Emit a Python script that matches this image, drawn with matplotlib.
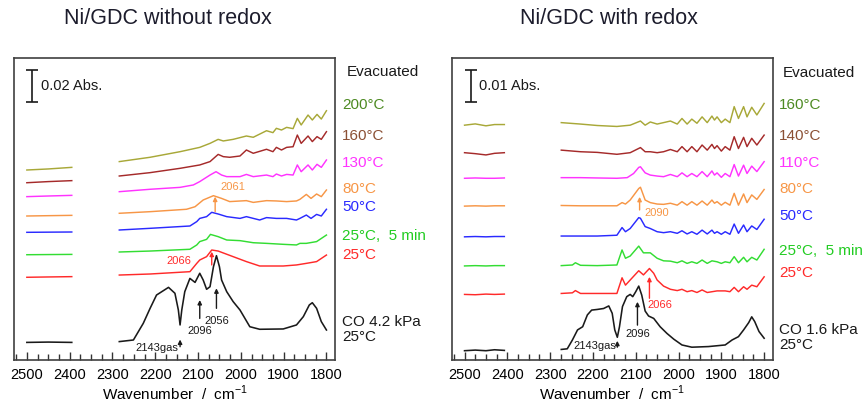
import matplotlib
matplotlib.use('Agg')
import matplotlib.pyplot as plt
from matplotlib.ticker import MultipleLocator

plt.rcParams['font.family'] = 'Liberation Sans'
plt.rcParams['mathtext.fontset'] = 'custom'
plt.rcParams['mathtext.rm'] = 'Liberation Sans'

# ------------------------------------------------------------------
# DATA (absorbance in mAbs, spectra already stacked as in the figure)
# short segment 2500-2400 cm-1 and main segment 2280-1800 cm-1

# --- Ni/GDC without redox
a_short_wn = [2500, 2450, 2395]
a200_short = [118.75, 119.4, 120.4]
a160_short = [110.8, 111.5, 112.1]
a130_short = [102.1, 102.5, 102.9]
a80_short  = [90.0, 90.2, 90.4]
a50_short  = [79.8, 79.9, 80.0]
a25b_short = [65.8, 65.9, 66.0]
a25_short  = [51.7, 51.9, 52.1]
aCO_short  = [11.0, 11.2, 11.0]

a200_wn = [2284, 2212, 2142, 2096, 2072, 2053, 2041, 2018, 1987, 1971, 1940, 1925,
           1917, 1905, 1893, 1878, 1868, 1859, 1843, 1833, 1822, 1812, 1800]
a200_A  = [124.0, 126.7, 130.2, 132.9, 135.4, 137.9, 136.9, 137.9, 140.0, 139.2, 143.3, 142.1,
           144.8, 143.75, 145.4, 144.6, 151.0, 146.9, 153.1, 150.0, 153.5, 150.6, 155.8]

a160_wn = [2284, 2212, 2142, 2096, 2072, 2053, 2041, 2026, 2002, 1987, 1971, 1940,
           1925, 1917, 1905, 1893, 1878, 1868, 1859, 1843, 1833, 1822, 1812, 1800]
a160_A  = [115.0, 117.1, 119.8, 121.9, 124.0, 128.5, 127.1, 126.7, 127.5, 131.25, 129.2, 131.7,
           130.2, 132.9, 131.25, 132.9, 133.3, 140.6, 135.4, 140.0, 136.5, 139.6, 137.9, 142.7]

a130_wn = [2284, 2212, 2142, 2111, 2096, 2072, 2058, 2045, 2033, 2002, 1987, 1971, 1940,
           1925, 1917, 1905, 1893, 1878, 1868, 1859, 1843, 1833, 1822, 1812, 1800]
a130_A  = [105.2, 106.7, 107.9, 109.4, 111.5, 115.6, 117.7, 115.6, 114.6, 114.6, 116.0, 114.6, 115.6,
           114.6, 116.25, 115.0, 116.0, 115.6, 121.9, 117.7, 121.9, 118.75, 122.3, 120.4, 125.0]

a80_wn = [2284, 2212, 2127, 2107, 2088, 2064, 2045, 2026, 1987, 1971,
          1940, 1917, 1893, 1870, 1862, 1847, 1836, 1823, 1812, 1800]
a80_A  = [91.7, 92.7, 94.2, 95.8, 100.0, 102.7, 101.0, 99.0, 99.6, 98.5,
          99.6, 99.4, 99.0, 99.4, 100.4, 103.5, 101.0, 103.75, 102.1, 106.25]

a50_wn = [2284, 2212, 2119, 2103, 2096, 2080, 2068, 2053, 2033, 2002, 1987,
          1956, 1940, 1917, 1893, 1870, 1862, 1847, 1836, 1823, 1812, 1800]
a50_A  = [81.25, 82.3, 83.75, 86.5, 88.5, 89.6, 92.3, 91.25, 89.6, 88.5, 89.6,
          87.5, 89.0, 88.5, 88.5, 87.5, 88.5, 90.6, 88.5, 91.0, 90.0, 94.2]

a25b_wn = [2284, 2212, 2119, 2103, 2096, 2080, 2071, 2053, 2033,
           2002, 1971, 1940, 1901, 1870, 1862, 1847, 1823, 1800]
a25b_A  = [67.5, 68.1, 69.2, 71.9, 74.0, 75.4, 78.5, 77.1, 75.0,
           74.6, 73.3, 72.9, 72.3, 71.9, 72.9, 72.9, 74.0, 78.1]

a25_wn = [2284, 2212, 2119, 2103, 2096, 2080, 2068, 2053, 2018, 1987,
          1956, 1901, 1870, 1847, 1823, 1800]
a25_A  = [53.1, 53.75, 55.2, 60.4, 62.5, 64.6, 68.75, 68.1, 64.6, 61.5,
          58.75, 58.75, 59.4, 60.4, 61.5, 65.6]

aCO_wn = [2284, 2251, 2228, 2212, 2197, 2169, 2154, 2146, 2142, 2138, 2131, 2119, 2107,
          2096, 2088, 2080, 2072, 2064, 2057, 2050, 2045, 2033, 2018, 2002, 1979,
          1956, 1901, 1870, 1854, 1840, 1833, 1823, 1812, 1800]
aCO_A  = [11.5, 12.5, 22.9, 32.3, 40.6, 45.4, 41.7, 31.25, 21.9, 31.25, 42.7, 51.0, 48.5,
          54.2, 50.0, 44.2, 45.8, 58.3, 65.2, 58.3, 50.0, 42.7, 36.5, 31.25, 20.8,
          19.2, 19.4, 21.9, 27.1, 34.4, 35.8, 32.3, 24.0, 18.75]

# --- Ni/GDC with redox
b_short_wn = [2500, 2475, 2450, 2430, 2407]
b160_short = [73.4, 73.8, 73.2, 73.6, 73.6]
b140_short = [64.8, 64.5, 64.1, 64.6, 64.8]
b110_short = [56.8, 56.9, 56.8, 56.8, 56.9]
b80_short  = [48.1, 48.2, 48.1, 48.2, 48.2]
b50_short  = [38.5, 38.6, 38.5, 38.6, 38.6]
b25b_short = [29.4, 29.5, 29.4, 29.5, 29.5]
b25_short  = [20.5, 20.4, 20.6, 20.5, 20.6]
bCO_short  = [2.9, 3.1, 2.9, 3.2, 3.0]

b_hot_wn = [2274, 2229, 2190, 2144, 2113, 2089, 2078, 2066, 2050, 2035, 2019, 2003,
            1992, 1980, 1969, 1957, 1945, 1933, 1922, 1916, 1910, 1900, 1891, 1880,
            1870, 1860, 1848, 1840, 1829, 1817, 1800]
b160_A = [74.2, 73.75, 73.3, 73.0, 73.4, 74.7, 73.4, 74.4, 73.75, 74.2, 74.7, 73.75,
          75.5, 73.75, 75.3, 74.0, 76.0, 74.2, 76.25, 75.0, 76.0, 74.2, 75.3, 74.2,
          79.2, 75.5, 79.2, 76.0, 79.0, 76.6, 80.2]
b140_A = [65.6, 65.1, 64.9, 64.3, 64.8, 66.4, 65.1, 65.1, 64.8, 65.1, 65.8, 65.1,
          66.7, 65.1, 66.7, 65.1, 67.2, 65.6, 67.4, 66.1, 67.0, 65.3, 66.7, 65.6,
          69.8, 66.1, 69.6, 66.7, 69.3, 67.2, 70.3]

b110_wn = [2274, 2229, 2190, 2144, 2120, 2105, 2093, 2089, 2078, 2066, 2050, 2035,
           2019, 2003, 1992, 1980, 1969, 1957, 1945, 1933, 1922, 1916, 1910, 1900,
           1891, 1880, 1870, 1860, 1848, 1840, 1829, 1817, 1800]
b110_A  = [57.0, 57.0, 56.9, 56.8, 57.0, 58.3, 60.2, 60.4, 58.5, 57.8, 57.5, 57.3,
           58.0, 57.3, 58.5, 57.3, 58.3, 57.3, 58.9, 57.3, 59.1, 57.8, 58.5, 57.1,
           58.3, 57.3, 61.1, 57.5, 60.9, 58.3, 60.6, 58.9, 62.0]

b_mid_wn = [2274, 2229, 2190, 2144, 2132, 2124, 2113, 2093, 2089, 2078, 2066, 2050,
            2035, 2019, 2003, 1992, 1980, 1969, 1957, 1945, 1933, 1922, 1916, 1910,
            1900, 1891, 1880, 1870, 1860, 1848, 1840, 1829, 1817, 1800]
b80_A = [48.3, 48.2, 48.2, 48.2, 49.2, 48.75, 50.0, 53.6, 54.0, 50.0, 49.2, 48.75,
         48.65, 49.0, 48.4, 49.5, 48.4, 49.5, 48.4, 49.7, 48.4, 50.0, 49.0, 49.5,
         48.4, 49.3, 48.4, 52.1, 48.4, 51.9, 49.2, 51.6, 50.2, 53.3]
b50_A = [38.75, 38.75, 38.75, 39.0, 41.4, 40.1, 41.1, 44.5, 44.3, 41.7, 41.1, 40.1,
         39.8, 40.1, 39.6, 40.4, 39.4, 40.1, 39.3, 40.6, 39.4, 40.6, 39.6, 40.1,
         39.3, 40.1, 39.3, 42.5, 39.6, 42.2, 40.1, 41.9, 40.8, 44.0]

b25b_wn = [2274, 2248, 2241, 2229, 2190, 2144, 2132, 2124, 2113, 2093, 2082, 2066,
           2050, 2035, 2019, 2003, 1992, 1980, 1969, 1957, 1945, 1933, 1922, 1910,
           1900, 1891, 1880, 1870, 1860, 1848, 1840, 1829, 1817, 1800]
b25b_A  = [29.5, 29.7, 30.4, 29.6, 29.5, 29.7, 34.4, 31.8, 32.5, 35.6, 33.5, 33.5,
           31.8, 31.0, 30.9, 30.4, 31.0, 30.2, 30.7, 30.2, 31.25, 30.2, 31.0, 30.7,
           30.2, 30.7, 30.4, 32.3, 30.4, 32.1, 30.7, 32.1, 31.25, 34.6]

b25_wn = [2274, 2248, 2241, 2229, 2190, 2144, 2132, 2124, 2113, 2093, 2082, 2068,
          2058, 2050, 2035, 2019, 2003, 1992, 1980, 1969, 1957, 1945, 1933, 1910,
          1891, 1880, 1870, 1860, 1848, 1840, 1829, 1817, 1800]
b25_A  = [20.8, 21.0, 21.7, 20.8, 20.8, 20.8, 25.7, 23.4, 25.0, 27.9, 26.6, 28.6,
          27.1, 25.0, 23.1, 22.1, 21.7, 22.1, 21.35, 21.7, 21.1, 21.9, 21.1, 21.6,
          21.6, 21.35, 22.7, 21.35, 22.9, 22.1, 23.4, 22.9, 26.0]

bCO_wn = [2274, 2260, 2248, 2236, 2224, 2213, 2203, 2190, 2175, 2163, 2155, 2149, 2143,
          2138, 2131, 2121, 2113, 2107, 2100, 2093, 2086, 2078, 2070, 2058, 2043, 2027,
          2011, 1992, 1969, 1930, 1891, 1875, 1860, 1848, 1836, 1829, 1822, 1812, 1800]
bCO_A  = [3.3, 3.5, 6.25, 9.4, 10.4, 14.1, 15.6, 15.8, 16.1, 16.9, 14.6, 9.4, 7.1,
          10.4, 16.7, 19.8, 20.5, 19.8, 21.35, 23.1, 20.3, 15.3, 13.75, 13.0, 10.4, 8.3,
          6.5, 4.7, 4.0, 4.2, 4.7, 6.25, 7.3, 9.4, 11.7, 13.5, 12.0, 8.9, 6.8]

labels_a = ["200°C", "160°C", "130°C", "80°C", "50°C", "25°C,  5 min", "25°C", "CO 4.2 kPa\n25°C"]
labels_b = ["160°C", "140°C", "110°C", "80°C", "50°C", "25°C,  5 min", "25°C", "CO 1.6 kPa\n25°C"]

# ------------------------------------------------------------------
trace_cols = ['#a8a838', '#a52a2a', '#ff33ff', '#f79646', '#2a2aff', '#33dd33', '#ff2a2a', '#1a1a1a']
text_cols  = ['#4d8a22', '#8b5034', '#ff33ff', '#f79646', '#2a2aff', '#22cc22', '#ff2a2a', '#1a1a1a']

panelA = [(a200_short, a200_wn, a200_A), (a160_short, a160_wn, a160_A),
          (a130_short, a130_wn, a130_A), (a80_short, a80_wn, a80_A),
          (a50_short, a50_wn, a50_A), (a25b_short, a25b_wn, a25b_A),
          (a25_short, a25_wn, a25_A), (aCO_short, aCO_wn, aCO_A)]
panelB = [(b160_short, b_hot_wn, b160_A), (b140_short, b_hot_wn, b140_A),
          (b110_short, b110_wn, b110_A), (b80_short, b_mid_wn, b80_A),
          (b50_short, b_mid_wn, b50_A), (b25b_short, b25b_wn, b25b_A),
          (b25_short, b25_wn, b25_A), (bCO_short, bCO_wn, bCO_A)]

W, H = 863, 405
fig = plt.figure(figsize=(W/100., H/100.), dpi=100)
axA = fig.add_axes([14/W, 45/H, 321/W, 302/H])
axB = fig.add_axes([451.7/W, 45/H, 321/W, 302/H])

def setup(ax, ytop):
    ax.set_xlim(2530, 1780)
    ax.set_ylim(0, ytop)
    ax.set_yticks([])
    ax.xaxis.set_major_locator(MultipleLocator(100))
    ax.xaxis.set_minor_locator(MultipleLocator(25))
    ax.tick_params(axis='x', which='major', direction='in', length=6, width=1.0,
                   labelsize=10.5, pad=6, color='#333333')
    ax.tick_params(axis='x', which='minor', direction='in', length=4, width=1.0, color='#333333')
    for s in ax.spines.values():
        s.set_linewidth(1.2)
        s.set_color('#404040')
    ax.set_xlabel(r'Wavenumber  /  cm$^{-1}$', fontsize=11, labelpad=1)

def draw(ax, panel, short_wn):
    for i, (sh, wn, A) in enumerate(panel):
        lw = 1.15 if i == 7 else 1.05
        ax.plot(short_wn, sh, color=trace_cols[i], lw=lw)
        ax.plot(wn, A, color=trace_cols[i], lw=lw)

def arrow(ax, x, y0, y1, col):
    ax.annotate('', xy=(x, y1), xytext=(x, y0),
                arrowprops=dict(arrowstyle='-|>', color=col, lw=1.0, mutation_scale=6,
                                shrinkA=0, shrinkB=0))

# ---- panel A
setup(axA, 188.75)
draw(axA, panelA, a_short_wn)
lab_y_a = [159.4, 140.0, 123.1, 106.9, 95.6, 77.5, 65.6, 19.0]
tr = axA.get_yaxis_transform()
axA.text(1.037, 180.0, 'Evacuated', transform=tr, fontsize=11, va='center', color='#1a1a1a')
for i, t in enumerate(labels_a):
    axA.text(1.022, lab_y_a[i], t, transform=tr, fontsize=11, va='center',
             color=text_cols[i], linespacing=1.15, clip_on=False)
# scale bar 0.02 Abs = 20 mAbs
axA.errorbar([2488], [171.25], yerr=[10], color='#1a1a1a', capsize=4, lw=1.2, capthick=1.2)
axA.text(2467, 171.25, '0.02 Abs.', fontsize=10.5, va='center', color='#1a1a1a')
# peak markers
arrow(axA, 2142, 8.3, 12.8, '#1a1a1a')
axA.text(2145, 7.5, '2143gas', fontsize=8, ha='right', va='center', color='#1a1a1a')
arrow(axA, 2096, 26.0, 37.5, '#1a1a1a')
axA.text(2096, 18.0, '2096', fontsize=8, ha='center', va='center', color='#1a1a1a')
arrow(axA, 2057, 32.3, 44.8, '#1a1a1a')
axA.text(2057, 24.6, '2056', fontsize=8, ha='center', va='center', color='#1a1a1a')
arrow(axA, 2068, 59.4, 67.7, '#ff2a2a')
axA.text(2115, 62.1, '2066', fontsize=8, ha='right', va='center', color='#ff2a2a')
arrow(axA, 2060, 92.7, 102.1, '#f79646')
axA.text(2018, 107.9, '2061', fontsize=8, ha='center', va='center', color='#f79646')

# ---- panel B
setup(axB, 94.4)
draw(axB, panelB, b_short_wn)
lab_y_b = [79.7, 70.0, 61.7, 53.3, 45.0, 34.1, 27.3, 7.0]
tr = axB.get_yaxis_transform()
axB.text(1.032, 89.8, 'Evacuated', transform=tr, fontsize=11, va='center', color='#1a1a1a')
for i, t in enumerate(labels_b):
    axB.text(1.02, lab_y_b[i], t, transform=tr, fontsize=11, va='center',
             color=text_cols[i], linespacing=1.15, clip_on=False)
axB.errorbar([2486], [85.6], yerr=[5], color='#1a1a1a', capsize=4, lw=1.2, capthick=1.2)
axB.text(2467, 85.6, '0.01 Abs.', fontsize=10.5, va='center', color='#1a1a1a')
arrow(axB, 2143, 4.0, 6.0, '#1a1a1a')
axB.text(2146, 4.4, '2143gas', fontsize=8, ha='right', va='center', color='#1a1a1a')
arrow(axB, 2096, 10.9, 18.2, '#1a1a1a')
axB.text(2096, 8.1, '2096', fontsize=8, ha='center', va='center', color='#1a1a1a')
arrow(axB, 2068, 19.3, 26.0, '#ff2a2a')
axB.text(2043, 17.2, '2066', fontsize=8, ha='center', va='center', color='#ff2a2a')
arrow(axB, 2091, 46.9, 51.0, '#f79646')
axB.text(2050, 46.0, '2090', fontsize=8, ha='center', va='center', color='#f79646')

fig.text(168/W, 1 - 19/H, 'Ni/GDC without redox', fontsize=15.5, ha='center', va='center', color='#1c1c2c')
fig.text(609/W, 1 - 19/H, 'Ni/GDC with redox', fontsize=15.5, ha='center', va='center', color='#1c1c2c')

fig.savefig('out.png', dpi=100)
